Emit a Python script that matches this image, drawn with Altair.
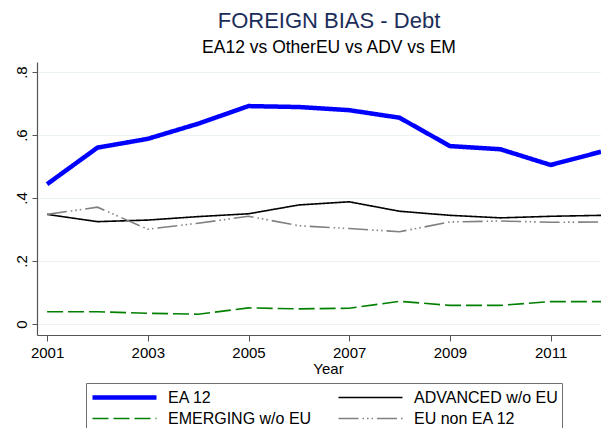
import altair as alt
import pandas as pd

years = list(range(2001, 2013))
series_names = ["EA 12", "ADVANCED w/o EU", "EMERGING w/o EU", "EU non EA 12"]
ea12 = [0.444, 0.560, 0.588, 0.636, 0.692, 0.689, 0.679, 0.655, 0.565, 0.555, 0.505, 0.547]
advanced = [0.348, 0.325, 0.330, 0.341, 0.350, 0.378, 0.388, 0.358, 0.345, 0.337, 0.342, 0.345]
emerging = [0.039, 0.039, 0.034, 0.031, 0.051, 0.048, 0.050, 0.072, 0.059, 0.059, 0.071, 0.071]
eu_non = [0.348, 0.371, 0.301, 0.320, 0.342, 0.312, 0.303, 0.293, 0.324, 0.327, 0.323, 0.324]

colors = ["#0000ff", "#000000", "#008000", "#808080"]
widths = [4.5, 1.6, 1.6, 1.6]
dashes = [[1, 0], [1, 0], [16, 5], [20, 4, 1.5, 3, 1.5, 3, 1.5, 4]]
y_ticks = [0, 0.2, 0.4, 0.6, 0.8]
x_ticks = [2001, 2003, 2005, 2007, 2009, 2011]

rows = []
for name, vals in zip(series_names, [ea12, advanced, emerging, eu_non]):
    for yr, v in zip(years, vals):
        rows.append({"Year": yr, "value": v, "series": name})
df = pd.DataFrame(rows)

FONT = "Liberation Sans"

chart = alt.Chart(df).mark_line(clip=True).encode(
    x=alt.X("Year:Q",
            scale=alt.Scale(domain=[2000.8, 2012.0], nice=False, zero=False),
            axis=alt.Axis(values=x_ticks, format="d", grid=False, tickSize=6,
                          labelPadding=4, labelFontSize=15, labelFont=FONT,
                          labelColor="#000000", tickColor="#555555",
                          domainColor="#555555", domainWidth=1.2,
                          title="Year", titleFont=FONT, titleFontSize=15,
                          titleFontWeight="normal", titleColor="#000000",
                          titleX=291, titleY=26, titleBaseline="top",
                          labelFlush=False)),
    y=alt.Y("value:Q",
            scale=alt.Scale(domain=[-0.035, 0.832], nice=False, zero=False),
            axis=alt.Axis(values=y_ticks, labelExpr="datum.value == 0 ? '0' : replace(format(datum.value, '.1f'), '0.', '.')",
                          grid=True, gridColor="#eaf2f3", gridWidth=1.2,
                          tickSize=5, labelPadding=3, labelFontSize=15,
                          labelFont=FONT, labelColor="#000000",
                          labelAngle=270, labelAlign="center", labelBaseline="bottom",
                          tickColor="#555555", domainColor="#555555", domainWidth=1.2,
                          title=None, labelFlush=False)),
    color=alt.Color("series:N",
                    scale=alt.Scale(domain=series_names, range=colors),
                    sort=series_names,
                    legend=alt.Legend(title=None, orient="none", legendX=49, legendY=321,
                                      columns=2, direction="horizontal",
                                      symbolType="stroke", symbolSize=4096,
                                      clipHeight=21, labelFontSize=16, labelFont=FONT,
                                      labelColor="#000000", labelOffset=9,
                                      columnPadding=24, rowPadding=0, padding=4,
                                      strokeColor="#707070", fillColor="#ffffff",
                                      labelLimit=300)),
    strokeWidth=alt.StrokeWidth("series:N",
                                scale=alt.Scale(type="ordinal", domain=series_names, range=widths),
                                sort=series_names),
    strokeDash=alt.StrokeDash("series:N",
                              scale=alt.Scale(domain=series_names, range=dashes),
                              sort=series_names),
    order=alt.Order("Year:Q"),
).properties(
    width=564, height=273,
    padding={"left": 29, "top": 54, "right": 0, "bottom": 93},
    autosize=alt.AutoSizeParams(type="none"),
    title=alt.TitleParams(text="FOREIGN BIAS - Debt", subtitle="EA12 vs OtherEU vs ADV vs EM",
                          font=FONT, fontSize=22, fontWeight="normal", color="#1c2d5a",
                          subtitleFont=FONT, subtitleFontSize=17.5, subtitleColor="#000000",
                          subtitlePadding=6, offset=5, anchor="middle", dx=10),
).configure_view(stroke=None)

chart.save("out.html", embed_options={"renderer": "svg", "actions": False})
